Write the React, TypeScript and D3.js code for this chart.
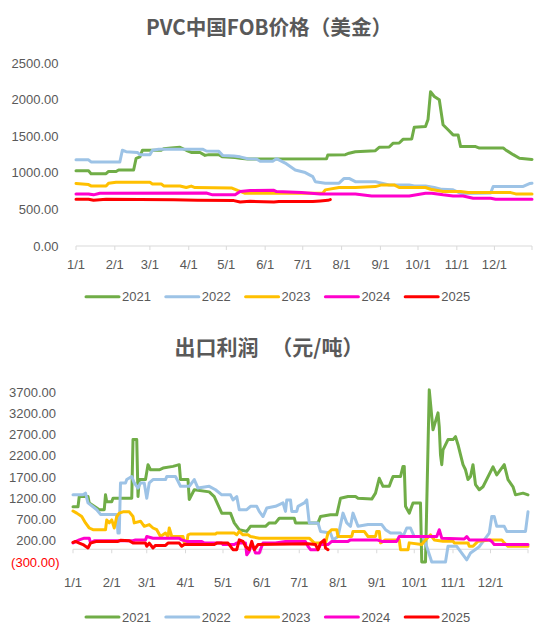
import * as d3 from 'd3'

type Pt = [string, number]

const years = ['2021', '2022', '2023', '2024', '2025']
const colors = ['#70AD47', '#9DC3E6', '#FFC000', '#FF00CC', '#FF0000']
const fobTicks = [0, 500, 1000, 1500, 2000, 2500]
const profitTicks = [-300, 200, 700, 1200, 1700, 2200, 2700, 3200, 3700]

// PVC FOB price (USD)
const fob2021: Pt[] = [['01-01',1030],['01-11',1030],['01-13',990],['01-25',990],['01-27',1020],['02-02',1020],['02-04',1040],['02-16',1040],['02-18',1200],['02-21',1220],['02-23',1310],['03-10',1310],['03-12',1330],['03-18',1340],['03-25',1350],['03-30',1310],['04-03',1280],['04-10',1280],['04-14',1240],['04-17',1250],['04-25',1250],['04-28',1220],['05-08',1210],['05-12',1200],['05-18',1190],['07-20',1195],['07-21',1245],['08-04',1250],['08-07',1270],['08-12',1290],['08-28',1305],['08-31',1350],['09-08',1355],['09-11',1405],['09-16',1410],['09-19',1460],['09-26',1465],['09-28',1625],['10-07',1635],['10-09',1730],['10-11',2110],['10-14',2045],['10-18',2000],['10-21',1660],['10-25',1590],['10-29',1520],['11-02',1520],['11-04',1360],['11-16',1360],['11-19',1340],['12-08',1340],['12-10',1315],['12-16',1250],['12-21',1200],['12-31',1185]]
const fob2022: Pt[] = [['01-01',1180],['01-11',1180],['01-13',1150],['02-05',1150],['02-07',1310],['02-10',1290],['02-19',1280],['02-21',1250],['03-01',1250],['03-03',1310],['03-08',1325],['04-12',1325],['04-15',1300],['04-25',1295],['04-28',1240],['05-07',1230],['05-12',1220],['05-18',1195],['05-25',1190],['05-28',1160],['06-07',1160],['06-10',1195],['06-17',1135],['06-25',1040],['07-03',1005],['07-09',950],['07-11',880],['07-19',860],['07-30',860],['08-03',925],['08-07',925],['08-12',880],['08-28',880],['09-02',860],['09-08',835],['09-24',835],['09-28',820],['10-07',820],['10-14',800],['10-20',775],['10-29',770],['11-04',720],['11-28',725],['11-30',815],['12-24',815],['12-29',855],['12-31',860]]
const fob2023: Pt[] = [['01-01',855],['01-11',840],['01-13',822],['01-25',822],['01-27',860],['02-02',873],['03-01',873],['03-03',850],['03-10',850],['03-12',822],['03-25',822],['03-30',800],['04-03',820],['04-06',800],['05-05',795],['05-10',760],['05-16',722],['07-17',722],['07-19',768],['07-30',800],['08-12',800],['08-28',813],['09-02',836],['09-12',836],['09-16',800],['10-07',800],['10-11',776],['10-21',745],['11-04',745],['11-10',731],['12-14',731],['12-18',713],['12-31',713]]
const fob2024: Pt[] = [['01-01',712],['01-11',712],['01-15',700],['01-20',722],['04-15',725],['04-20',700],['05-08',700],['05-12',745],['05-20',760],['06-08',763],['06-10',745],['06-30',731],['07-15',713],['08-12',713],['08-25',685],['09-24',685],['10-07',722],['10-12',722],['10-21',700],['10-29',685],['11-06',685],['11-14',653],['11-28',653],['12-02',640],['12-31',640]]
const fob2025: Pt[] = [['01-01',639],['01-11',639],['01-15',626],['01-25',639],['03-20',632],['04-08',625],['05-07',621],['05-12',603],['05-20',612],['06-08',603],['06-12',608],['07-09',608],['07-15',617],['07-21',625],['07-23',635]]

// export profit (CNY/t)
const profit2021: Pt[] = [['01-01',1000],['01-05',1000],['01-06',1240],['01-13',1240],['01-14',1090],['01-20',970],['01-22',930],['01-26',930],['01-27',1280],['01-28',1120],['02-01',1120],['02-02',1200],['02-17',1200],['02-18',2580],['02-21',2580],['02-22',1240],['02-23',1640],['02-28',1640],['03-02',1990],['03-04',1870],['03-11',1870],['03-14',1910],['03-22',1950],['03-27',1990],['03-28',1640],['04-03',1640],['04-04',1170],['04-08',1400],['04-20',1350],['04-24',1240],['04-30',850],['05-07',850],['05-10',620],['05-14',460],['05-20',420],['05-23',540],['06-04',540],['06-07',620],['06-12',620],['06-15',730],['06-27',730],['06-28',620],['07-16',620],['07-18',770],['07-26',810],['07-31',810],['08-03',1200],['08-09',1240],['08-15',1240],['08-17',1200],['08-28',1180],['08-31',1320],['09-03',1670],['09-06',1480],['09-11',1480],['09-13',1640],['09-14',1710],['09-20',1710],['09-22',1950],['09-23',1950],['09-24',1010],['09-27',850],['09-30',1090],['10-06',1090],['10-07',-300],['10-10',-300],['10-13',3750],['10-16',2810],['10-20',3210],['10-21',2880],['10-22',2220],['10-23',1990],['10-24',2340],['10-28',2580],['11-01',2580],['11-03',2650],['11-05',2460],['11-09',1990],['11-11',1870],['11-13',1640],['11-15',1710],['11-17',1990],['11-19',1520],['11-22',1400],['11-25',1470],['12-03',1940],['12-06',1750],['12-12',1990],['12-15',1640],['12-19',1470],['12-21',1280],['12-27',1320],['12-31',1280]]
const profit2022: Pt[] = [['01-01',1280],['01-09',1280],['01-11',1320],['01-13',1090],['01-17',1000],['01-20',930],['01-23',820],['02-05',820],['02-06',380],['02-07',380],['02-08',1560],['02-12',1560],['02-13',1640],['02-17',1710],['02-19',1560],['02-22',1440],['02-24',1560],['02-27',1560],['03-01',1200],['03-03',1560],['03-06',1640],['03-16',1640],['03-17',1710],['03-24',1710],['03-26',1600],['03-28',1480],['04-04',1480],['04-08',1640],['04-11',1440],['04-20',1480],['04-25',1400],['04-30',1280],['05-07',1280],['05-09',1160],['05-12',1240],['05-14',930],['05-20',930],['05-23',1010],['05-28',1010],['05-30',890],['06-02',770],['06-05',970],['06-12',1010],['06-18',1090],['06-20',890],['06-21',1160],['06-24',1160],['06-25',890],['06-29',890],['06-30',1010],['07-05',1090],['07-07',1160],['07-09',620],['07-16',620],['07-18',420],['07-26',380],['07-28',220],['08-01',300],['08-05',850],['08-08',620],['08-11',540],['08-13',850],['08-17',540],['08-25',580],['09-05',580],['09-08',460],['09-12',380],['09-20',380],['09-22',300],['09-25',500],['09-28',500],['10-01',300],['10-08',300],['10-10',150],['10-15',-300],['10-26',-300],['10-28',70],['11-04',70],['11-08',-90],['11-12',-250],['11-15',-90],['11-22',60],['11-30',380],['12-02',770],['12-04',770],['12-06',540],['12-12',540],['12-14',420],['12-29',420],['12-31',880]]
const profit2023: Pt[] = [['01-01',900],['01-04',850],['01-08',770],['01-11',620],['01-14',500],['01-17',460],['01-27',460],['01-28',690],['01-30',620],['02-01',690],['02-03',500],['02-05',770],['02-07',850],['02-10',880],['02-15',880],['02-18',770],['02-19',620],['02-24',660],['02-27',540],['03-03',580],['03-06',500],['03-09',460],['03-12',300],['03-16',380],['03-18',300],['03-19',500],['03-21',300],['03-30',300],['03-31',150],['04-02',150],['04-03',340],['04-05',360],['04-25',360],['04-26',380],['05-10',380],['05-12',340],['05-14',420],['05-17',340],['05-21',340],['05-23',300],['05-30',260],['07-09',260],['07-13',150],['07-22',150],['07-24',380],['07-27',460],['07-31',460],['08-01',300],['08-12',300],['08-13',420],['08-22',420],['08-25',300],['08-31',300],['09-01',420],['09-03',420],['09-04',150],['09-08',220],['09-19',220],['09-20',-10],['09-26',-10],['09-27',150],['10-07',110],['10-10',220],['10-14',340],['10-17',220],['10-24',190],['11-01',190],['11-02',150],['11-13',150],['11-14',70],['11-17',70],['11-21',190],['12-01',220],['12-10',220],['12-12',150],['12-15',70],['12-31',70]]
const profit2024: Pt[] = [['01-01',150],['01-06',220],['01-10',260],['01-14',260],['01-15',150],['01-18',200],['02-18',200],['02-20',220],['02-28',220],['03-01',300],['03-06',260],['03-27',260],['03-29',220],['04-02',185],['04-14',185],['04-16',145],['04-30',145],['05-01',110],['05-10',110],['05-12',145],['05-19',145],['05-20',-130],['05-22',-50],['05-24',145],['05-27',-90],['05-30',-90],['06-02',145],['06-12',145],['06-20',180],['07-06',180],['07-08',70],['07-10',-10],['07-16',-10],['07-18',110],['07-24',110],['07-27',185],['08-09',185],['08-11',220],['09-01',220],['09-05',185],['09-17',185],['09-19',300],['10-19',300],['10-21',460],['10-23',260],['11-10',240],['11-12',300],['11-14',220],['11-30',220],['12-02',185],['12-04',110],['12-31',110]]
const profit2025: Pt[] = [['01-01',160],['01-03',185],['01-06',145],['01-09',110],['01-13',30],['01-15',145],['01-20',185],['02-06',185],['02-08',210],['02-15',200],['02-18',145],['02-28',145],['03-01',70],['03-03',145],['03-06',30],['03-08',90],['03-16',90],['03-18',145],['03-27',145],['03-29',70],['03-31',110],['04-24',110],['04-26',145],['05-05',145],['05-07',70],['05-09',-10],['05-12',-10],['05-14',220],['05-17',185],['05-19',70],['05-22',-10],['05-24',185],['05-26',-10],['05-29',110],['07-08',130],['07-14',110],['07-16',-10],['07-18',145],['07-21',220],['07-22',30],['07-24',-10]]

const fobSeries = [fob2021, fob2022, fob2023, fob2024, fob2025]
const profitSeries = [profit2021, profit2022, profit2023, profit2024, profit2025]

const parse = d3.timeParse('%Y-%m-%d')
const toDate = (md: string) => parse('2021-' + md) as Date
const start = toDate('01-01')
const end = toDate('12-31')
const months = d3.timeMonth.range(start, end)

const textColor = '#595959'
const axisColor = '#D9D9D9'
const numFont = '"Liberation Sans", Arial, sans-serif'
const cjkFont = '"Noto Sans CJK SC", sans-serif'

const fmt = d3.format('.2f')

function Panel({ series, ticks, xRange, yRange, domain, title, titleY, titleSize, xLabelY, legendY, labelRight }) {
  const x = d3.scaleTime().domain([start, end]).range(xRange)
  const y = d3.scaleLinear().domain(domain).range(yRange)
  const axisY = y(Math.max(0, domain[0]))
  const line = d3.line<Pt>()
    .x(d => x(toDate(d[0])))
    .y(d => y(d[1]))

  return (
    <g>
      <text x={269} y={titleY} textAnchor="middle" fill={textColor}
        style={{ font: `bold ${titleSize}px ${cjkFont}` }}>{title}</text>

      {ticks.map(t => (
        <text key={t} x={t < 0 ? labelRight : labelRight - 3.5} y={y(t)} dy="0.35em" textAnchor="end"
          fill={t < 0 ? '#FF0000' : textColor} style={{ font: `13px ${numFont}` }}>
          {t < 0 ? `(${fmt(-t)})` : fmt(t)}
        </text>
      ))}

      <line x1={xRange[0]} x2={xRange[1]} y1={axisY} y2={axisY} stroke={axisColor} strokeWidth={1} />
      {[...months, end].map((m, i) => (
        <line key={i} x1={x(m)} x2={x(m)} y1={axisY} y2={axisY + 4} stroke={axisColor} strokeWidth={1} />
      ))}
      {months.map((m, i) => (
        <text key={i} x={x(m)} y={xLabelY} textAnchor="middle" fill={textColor}
          style={{ font: `13px ${numFont}` }}>{d3.timeFormat('%-m/%-d')(m)}</text>
      ))}

      {series.map((s, i) => (
        <path key={i} d={line(s) as string} fill="none" stroke={colors[i]} strokeWidth={3}
          strokeLinejoin="round" strokeLinecap="round" />
      ))}

      {years.map((yr, i) => {
        const lx = 86 + i * 79.8
        return (
          <g key={yr}>
            <line x1={lx} x2={lx + 33} y1={legendY} y2={legendY} stroke={colors[i]} strokeWidth={3} strokeLinecap="round" />
            <text x={lx + 36} y={legendY} dy="0.36em" fill={textColor} style={{ font: `13px ${numFont}` }}>{yr}</text>
          </g>
        )
      })}
    </g>
  )
}

export default function App() {
  return (
    <svg width={550} height={641} viewBox="0 0 550 641"
      style={{ position: 'absolute', left: 0, top: 0, background: '#fff' }}>
      <rect width={550} height={641} fill="#fff" />
      <Panel series={fobSeries} ticks={fobTicks} xRange={[76, 532]} yRange={[246, 63.3]}
        domain={[0, 2500]} title="PVC中国FOB价格（美金）" titleY={35} titleSize={20.6} xLabelY={268.5}
        legendY={296.7} labelRight={62} />
      <Panel series={profitSeries} ticks={profitTicks} xRange={[73, 528]} yRange={[562, 392]}
        domain={[-300, 3700]}
        title={<><tspan>出口利润</tspan><tspan dx={8}> （元/吨）</tspan></>}
        titleY={355} titleSize={21} xLabelY={586.5}
        legendY={617} labelRight={59.5} />
    </svg>
  )
}
